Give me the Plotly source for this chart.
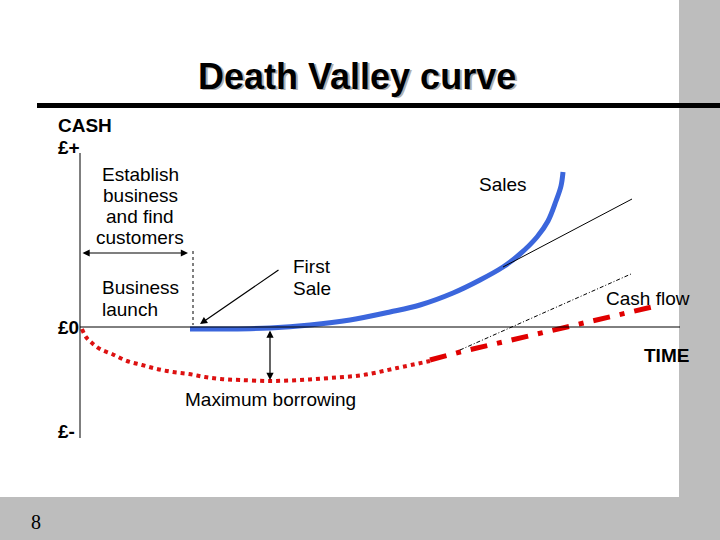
import plotly.graph_objects as go

# ---- data (time units along x, cash relative to £0 along y) ----
sales_time = [190, 230, 270, 310, 350, 390, 420, 453, 480, 503, 520, 537, 548, 556, 561, 563]
sales_cash = [-2, -2, -1, 2, 7, 15, 22, 34, 47, 60, 73, 90, 106, 126, 141, 155]

borrow_time = [82, 86, 92, 100, 112, 127, 142, 157, 173, 189, 205, 221, 240, 270, 300, 330, 363, 397, 430]
borrow_cash = [-2, -10, -16, -22, -27, -34, -38, -42, -45, -47, -50, -52, -53, -54, -53, -51, -48, -41, -34]

cashflow_time = [430, 460, 503, 547, 590, 633, 656]
cashflow_cash = [-33, -25, -15, -5, 5, 15, 21]

sales_trend_time = [503, 632]
sales_trend_cash = [60, 128]

cash_trend_time = [460, 631]
cash_trend_cash = [-23, 53]

W, H = 720, 540
ZERO_PIX = 327


def py(y):
    # pixel row -> cash value
    return ZERO_PIX - y


FONT = "Liberation Sans, Arial, sans-serif"

fig = go.Figure()

fig.add_trace(go.Scatter(x=sales_time, y=sales_cash, mode="lines",
                         line=dict(color="#3b66dc", width=5, shape="spline"),
                         hoverinfo="skip"))
fig.add_trace(go.Scatter(x=borrow_time, y=borrow_cash, mode="lines",
                         line=dict(color="#dd1111", width=4, dash="4px,4px", shape="spline"),
                         hoverinfo="skip"))
fig.add_trace(go.Scatter(x=cashflow_time, y=cashflow_cash, mode="lines",
                         line=dict(color="#e00000", width=5, dash="17px,10px,5px,10px"),
                         hoverinfo="skip"))
fig.add_trace(go.Scatter(x=sales_trend_time, y=sales_trend_cash, mode="lines",
                         line=dict(color="black", width=1),
                         hoverinfo="skip"))
fig.add_trace(go.Scatter(x=cash_trend_time, y=cash_trend_cash, mode="lines",
                         line=dict(color="black", width=1, dash="4px,2px,1px,2px"),
                         hoverinfo="skip"))

shapes = [
    # grey slide borders
    dict(type="rect", xref="x", yref="y", x0=679, x1=720, y0=py(0), y1=py(540),
         fillcolor="#bdbdbd", line=dict(width=0), layer="below"),
    dict(type="rect", xref="x", yref="y", x0=0, x1=720, y0=py(497), y1=py(540),
         fillcolor="#bdbdbd", line=dict(width=0), layer="below"),
    # title rule
    dict(type="rect", xref="x", yref="y", x0=37, x1=720, y0=py(103), y1=py(108),
         fillcolor="black", line=dict(width=0)),
    # axes
    dict(type="line", xref="x", yref="y", x0=80, x1=80, y0=py(153), y1=py(438),
         line=dict(color="black", width=1)),
    dict(type="line", xref="x", yref="y", x0=80, x1=680, y0=0, y1=0,
         line=dict(color="black", width=1)),
    # launch marker
    dict(type="line", xref="x", yref="y", x0=193, x1=193, y0=py(251), y1=py(325),
         line=dict(color="black", width=1, dash="3px,3px")),
]

ann = []


def txt(s, x, y, size=19, bold=False, anchor="left", color="black", family=FONT):
    ann.append(dict(text=f"<b>{s}</b>" if bold else s, x=x, y=py(y), xref="x", yref="y",
                    showarrow=False, xanchor=anchor, yanchor="middle",
                    font=dict(family=family, size=size, color=color)))


# title with shadow
txt("Death Valley curve", 358.5, 77.5, size=36, bold=True, anchor="center", color="#b0b0b0")
txt("Death Valley curve", 357, 76, size=36, bold=True, anchor="center")

txt("CASH", 56, 125, bold=True)
txt("£+", 56, 147, bold=True)
txt("£0", 56, 327, bold=True)
txt("£-", 56, 431, bold=True)

for i, line in enumerate(["Establish", "business", "and find", "customers"]):
    txt(line, 140, 174 + i * 21.3, anchor="center")

txt("Business", 100, 287)
txt("launch", 100, 309)
txt("First", 291, 266)
txt("Sale", 291, 288)
txt("Sales", 503, 184, anchor="center")
txt("Cash flow", 604, 298)
txt("TIME", 642, 355, bold=True)
txt("Maximum borrowing", 270, 399, anchor="center")
txt("8", 29, 522, size=20, family="Liberation Serif, Times New Roman, serif")


def arrow(x0, y0, x1, y1, both=False):
    ann.append(dict(x=x1, y=py(y1), ax=x0, ay=py(y0), xref="x", yref="y",
                    axref="x", ayref="y", text="", showarrow=True,
                    arrowhead=2, startarrowhead=2, arrowsize=1.2, startarrowsize=1.2,
                    arrowwidth=1.2, arrowcolor="black",
                    arrowside="end+start" if both else "end"))


arrow(81, 253, 188, 253, both=True)
arrow(280, 269, 200, 324)
arrow(270, 329, 270, 380, both=True)

fig.update_layout(
    width=W, height=H,
    margin=dict(l=0, r=0, t=0, b=0),
    paper_bgcolor="white", plot_bgcolor="white",
    showlegend=False,
    xaxis=dict(range=[0, W], visible=False, fixedrange=True),
    yaxis=dict(range=[py(H), py(0)], visible=False, fixedrange=True),
    shapes=shapes, annotations=ann,
)

fig.write_html("out.html", config={"displayModeBar": False},
               post_script="document.body.style.margin='0';document.body.style.overflow='hidden';")
